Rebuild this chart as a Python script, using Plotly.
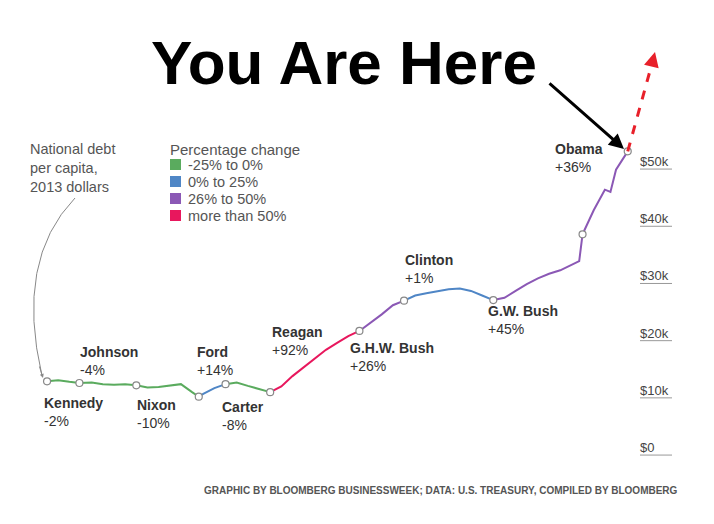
import plotly.graph_objects as go

years = [1961,1962,1963,1963.9,1965,1966,1967,1968,1969,1970,1971,1972,1973,1974,1974.6,1975,1976,1977,1978,1979,1980,1981,1982,1983,1984,1985,1986,1987,1988,1989,1990,1991,1992,1993,1994,1995,1996,1997,1998,1999,2000,2001,2002,2003,2004,2005,2006,2007,2008,2008.7,2009,2010,2011,2011.5,2012,2013.05]
debt_k = [12.9,13.1,12.8,12.6,12.7,12.4,12.3,12.4,12.2,11.8,11.9,12.1,12.4,11.0,10.2,10.7,11.7,12.4,12.7,12.1,11.5,11.0,12.0,13.8,15.3,16.9,18.4,19.6,20.8,21.7,23.1,24.6,26.2,27.0,27.9,28.3,28.7,29.0,29.1,28.7,27.9,27.1,27.5,28.7,29.9,30.9,31.7,32.3,33.2,33.9,38.6,42.8,46.4,46.0,49.9,53.1]

presidents = ["Kennedy","Johnson","Nixon","Ford","Carter","Reagan","G.H.W. Bush","Clinton","G.W. Bush","Obama"]
changes = ["-2%","-4%","-10%","+14%","-8%","+92%","+26%","+1%","+45%","+36%"]
starts = [1961,1963.9,1969,1974.6,1977,1981,1989,1993,2001,2009]
bands = ["g","g","g","b","g","r","p","b","p","p"]
band_colors = {"g":"#5aab5e","b":"#4f86c6","p":"#8b58b5","r":"#e8175d"}
legend_labels = ["-25% to 0%","0% to 25%","26% to 50%","more than 50%"]
legend_keys = ["g","b","p","r"]
ticks_k = [0,10,20,30,40,50]
tick_labels = ["$0","$10k","$20k","$30k","$40k","$50k"]

W, H = 714, 524
X0, X1 = 1957.5, 2021.5
Y0, Y1 = -13.45, 78.16
def px(x): return X0 + (x-8)/W*(X1-X0)
def py(y): return Y1 - (y-8)/H*(Y1-Y0)
def pxp(x): return (x-8)/W
def pyp(y): return 1-(y-8)/H
FONT = "Liberation Sans"

fig = go.Figure()
ends = starts[1:] + [years[-1]]
for s, e, b in zip(starts, ends, bands):
    xs = [x for x in years if s <= x <= e]
    ys = [debt_k[years.index(x)] for x in xs]
    fig.add_trace(go.Scatter(x=xs, y=ys, mode="lines", line=dict(color=band_colors[b], width=2), showlegend=False, hoverinfo="skip"))
node_x = starts + [years[-1]]
node_y = [debt_k[years.index(x)] for x in node_x]
fig.add_trace(go.Scatter(x=node_x, y=node_y, mode="markers", marker=dict(size=7, color="white", line=dict(color="#888", width=1.2)), showlegend=False))

lab_pos = [(42,393),(78,342),(135,395),(195,342),(220,397),(270,322),(348,338),(403,250),(486,301),(553,139)]
for n, c, (lx, ly) in zip(presidents, changes, lab_pos):
    fig.add_annotation(xref="paper", yref="paper", x=pxp(lx), y=pyp(ly), xanchor="left", yanchor="top", align="left",
                       text=f"<b>{n}</b><br>{c}", showarrow=False, font=dict(size=14, color="#333", family=FONT))

for v, t in zip(ticks_k, tick_labels):
    fig.add_annotation(x=px(638), y=v, xanchor="left", yanchor="bottom", text=t, showarrow=False, font=dict(size=13, color="#444", family=FONT), yshift=-2)
    fig.add_shape(type="line", x0=px(640), x1=px(672), y0=v, y1=v, line=dict(color="#999", width=1))

fig.add_annotation(xref="paper", yref="paper", x=pxp(168), y=pyp(139), xanchor="left", yanchor="top", text="Percentage change", showarrow=False, font=dict(size=15, color="#555", family=FONT))
for i, (k, lbl) in enumerate(zip(legend_keys, legend_labels)):
    yy = 165 + i*17
    fig.add_shape(type="rect", xref="paper", yref="paper", x0=pxp(170), x1=pxp(181), y0=pyp(yy+5), y1=pyp(yy-6), fillcolor=band_colors[k], line=dict(width=0))
    fig.add_annotation(xref="paper", yref="paper", x=pxp(186), y=pyp(yy), xanchor="left", yanchor="middle", text=lbl, showarrow=False, font=dict(size=14.5, color="#555", family=FONT))

fig.add_annotation(xref="paper", yref="paper", x=pxp(28), y=pyp(139), xanchor="left", yanchor="top", align="left",
                   text="National debt<br>per capita,<br>2013 dollars", showarrow=False, font=dict(size=14.5, color="#555", family=FONT))
fig.add_shape(type="path", path=f"M {px(75)},{py(198)} Q {px(15)},{py(260)} {px(42)},{py(376)}", line=dict(color="#888", width=1))
fig.add_annotation(x=px(43), y=py(378), ax=px(39), ay=py(365), axref="x", ayref="y", text="", showarrow=True, arrowhead=2, arrowsize=0.8, arrowwidth=1, arrowcolor="#888")

fig.add_annotation(xref="paper", yref="paper", x=pxp(344), y=pyp(62), xanchor="center", yanchor="middle", text="<b>You Are Here</b>", showarrow=False, font=dict(size=62, color="black", family=FONT))
fig.add_annotation(x=px(624), y=py(149), ax=px(548), ay=py(82), axref="x", ayref="y", text="", showarrow=True, arrowhead=2, arrowsize=1, arrowwidth=3, arrowcolor="black")
fig.add_shape(type="line", x0=years[-1], y0=debt_k[-1], x1=px(653), y1=py(60), line=dict(color="#e8202a", width=3, dash="dash"))
fig.add_annotation(x=px(655), y=py(52), ax=px(652), ay=py(64), axref="x", ayref="y", text="", showarrow=True, arrowhead=2, arrowsize=1, arrowwidth=3, arrowcolor="#e8202a")

fig.add_annotation(xref="paper", yref="paper", x=pxp(680), y=pyp(490), xanchor="right", yanchor="middle", text="<b>GRAPHIC BY BLOOMBERG BUSINESSWEEK; DATA: U.S. TREASURY, COMPILED BY BLOOMBERG</b>", showarrow=False, font=dict(size=10, color="#555", family=FONT))

fig.update_layout(width=W, height=H, margin=dict(l=0, r=0, t=0, b=0), plot_bgcolor="white", paper_bgcolor="white",
                  xaxis=dict(range=[X0, X1], visible=False), yaxis=dict(range=[Y0, Y1], visible=False))
fig.write_html("out.html")
